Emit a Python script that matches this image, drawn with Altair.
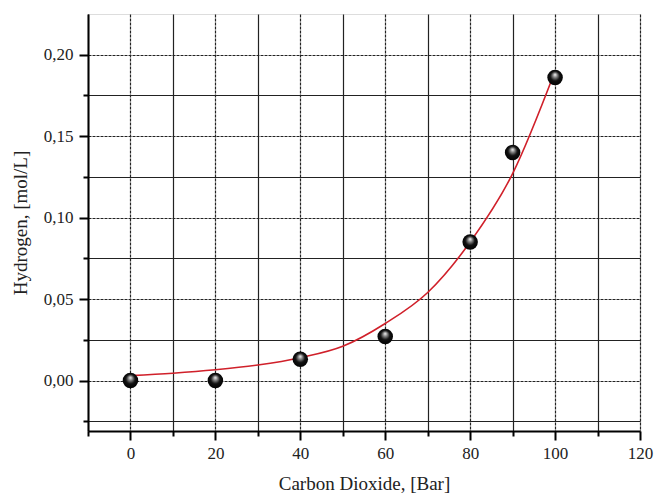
import altair as alt
import pandas as pd

# measured points
pt_x = [0, 20, 40, 60, 80, 90, 100]
pt_y = [0.000, 0.000, 0.013, 0.027, 0.085, 0.140, 0.186]

# fitted curve
fit_x = [0, 10, 20, 30, 40, 50, 60, 70, 80, 90, 100]
fit_y = [0.003, 0.0045, 0.0066, 0.0095, 0.014, 0.021, 0.035, 0.054, 0.085, 0.127, 0.19]

x_ticks = [-10, 0, 10, 20, 30, 40, 50, 60, 70, 80, 90, 100, 110, 120]
y_ticks = [-0.025, 0.0, 0.025, 0.05, 0.075, 0.1, 0.125, 0.15, 0.175, 0.2]

pts = pd.DataFrame({"x": pt_x, "y": pt_y})
fit = pd.DataFrame({"x": fit_x, "y": fit_y})

FONT = "Liberation Serif"

xscale = alt.Scale(domain=[-10, 120], nice=False, zero=False)
yscale = alt.Scale(domain=[-0.031, 0.225], nice=False, zero=False)

x_axis = alt.Axis(
    values=x_ticks,
    labelExpr="datum.value % 20 == 0 ? datum.value : ''",
    title="Carbon Dioxide, [Bar]",
    titleFont=FONT, titleFontSize=19, titleFontWeight="normal", titleColor="#222",
    titlePadding=13,
    labelFont=FONT, labelFontSize=17, labelColor="#222", labelPadding=5,
    domainColor="black", domainWidth=2,
    tickColor="black", tickWidth=2,
    tickSize={"condition": {"test": "datum.value % 20 == 0", "value": 9}, "value": 5},
    grid=True, gridColor="#222", gridWidth=1.2,
    gridDash={"condition": {"test": "datum.value % 20 == 0", "value": [3, 1]}, "value": []},
    labelFlush=False,
)

major_y = "abs(datum.value*20 - round(datum.value*20)) < 1e-6"
y_axis = alt.Axis(
    values=y_ticks,
    labelExpr=f"{major_y} ? replace(format(datum.value, '.2f'), '.', ',') : ''",
    title="Hydrogen, [mol/L]",
    titleFont=FONT, titleFontSize=19, titleFontWeight="normal", titleColor="#222",
    titlePadding=13,
    labelFont=FONT, labelFontSize=17, labelColor="#222", labelPadding=6,
    domainColor="black", domainWidth=2,
    tickColor="black", tickWidth=2,
    tickSize={"condition": {"test": major_y, "value": 9}, "value": 5},
    grid=True, gridColor="#222", gridWidth=1.2,
    gridDash={"condition": {"test": major_y, "value": [3, 1]}, "value": []},
    labelFlush=False,
)

line = alt.Chart(fit).mark_line(color="#d0202a", strokeWidth=1.6, interpolate="monotone").encode(
    x=alt.X("x:Q", scale=xscale, axis=x_axis),
    y=alt.Y("y:Q", scale=yscale, axis=y_axis),
)

sphere = {
    "gradient": "radial",
    "x1": 0.5, "y1": 0.3, "r1": 0.0,
    "x2": 0.5, "y2": 0.5, "r2": 0.55,
    "stops": [
        {"offset": 0.0, "color": "#ffffff"},
        {"offset": 0.25, "color": "#888888"},
        {"offset": 0.55, "color": "#111111"},
        {"offset": 1.0, "color": "#000000"},
    ],
}

points = alt.Chart(pts).mark_point(
    shape="circle", filled=True, size=240, fill=sphere, opacity=1, strokeWidth=0
).encode(
    x=alt.X("x:Q", scale=xscale),
    y=alt.Y("y:Q", scale=yscale),
)

chart = alt.layer(line, points).properties(
    width=552, height=417,
    autosize=alt.AutoSizeParams(type="none"),
    padding={"left": 88, "top": 14, "right": 15, "bottom": 64},
).configure_view(stroke=None).configure(background="white")

chart.save("out.html", embed_options={"renderer": "svg", "actions": False})
